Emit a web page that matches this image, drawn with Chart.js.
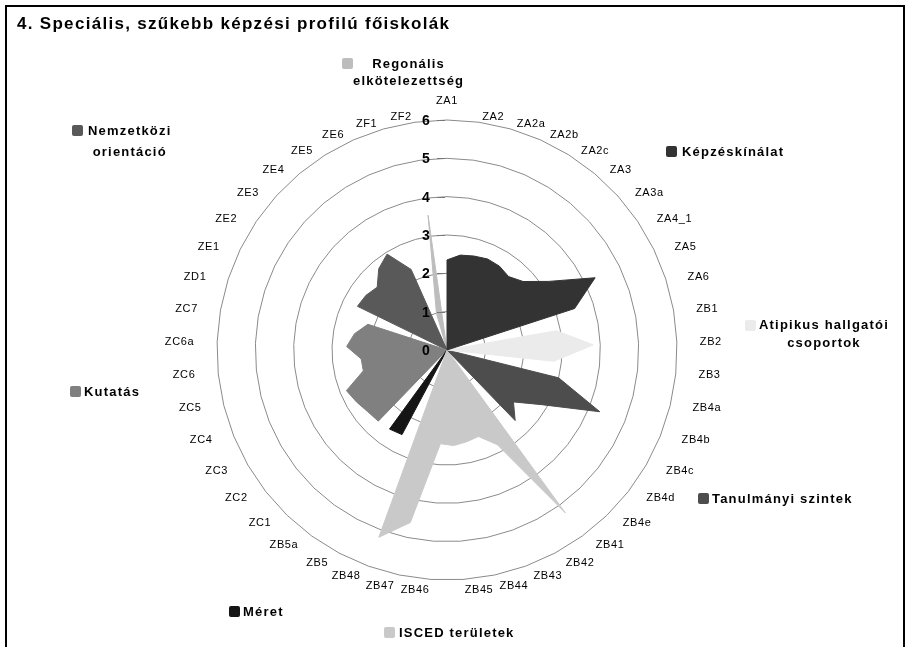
<!DOCTYPE html>
<html>
<head>
<meta charset="utf-8">
<script src="https://cdn.jsdelivr.net/npm/chart.js@4.4.0/dist/chart.umd.min.js"></script>
<style>
  html, body { margin: 0; padding: 0; background: #fff; overflow: hidden; }
  #wrap { position: relative; width: 909px; height: 647px; }
  #frame { position: absolute; left: 5px; top: 5px; width: 896px; height: 700px; border: 2px solid #000; pointer-events: none; }
  .title { position: absolute; left: 17px; top: 14px; font: bold 17px "Liberation Sans", Arial, sans-serif; letter-spacing: 1.3px; white-space: nowrap; }
  .leg { position: absolute; display: flex; align-items: flex-start; font: bold 13px "Liberation Sans", Arial, sans-serif; letter-spacing: 1.2px; }
  .leg .sq { width: 11px; height: 11px; border-radius: 2px; flex: none; }
  .leg .tx { text-align: center; white-space: nowrap; }
</style>
</head>
<body>
<div id="wrap">
  <canvas id="radar" width="909" height="647"></canvas>
  <div class="title">4. Speciális, szűkebb képzési profilú főiskolák</div>
  <div id="legends"></div>
  <div id="frame"></div>
</div>
<script>
// categories per group, in the order they run round the chart
const catKepzes = ['ZA1', 'ZA2', 'ZA2a', 'ZA2b', 'ZA2c', 'ZA3', 'ZA3a', 'ZA4_1', 'ZA5', 'ZA6'];
const catAtipikus = ['ZB1', 'ZB2', 'ZB3'];
const catSzintek = ['ZB4a', 'ZB4b', 'ZB4c', 'ZB4d', 'ZB4e'];
const catIsced = ['ZB41', 'ZB42', 'ZB43', 'ZB44', 'ZB45', 'ZB46', 'ZB47', 'ZB48'];
const catMeret = ['ZB5', 'ZB5a'];
const catKutatas = ['ZC1', 'ZC2', 'ZC3', 'ZC4', 'ZC5', 'ZC6', 'ZC6a', 'ZC7', 'ZD1'];
const catNemzetkozi = ['ZE1', 'ZE2', 'ZE3', 'ZE4', 'ZE5', 'ZE6'];
const catRegionalis = ['ZF1', 'ZF2'];

// values
const valKepzes = [2.35, 2.5, 2.55, 2.6, 2.58, 2.5, 2.67, 3.2, 4.3, 3.5];
const valAtipikus = [2.9, 3.82, 2.8];
const valSzintek = [3.0, 4.3, 2.85, 2.2, 2.56];
const valIsced = [5.25, 2.8, 2.4, 2.45, 2.5, 2.45, 4.6, 5.2];
const valMeret = [2.5, 2.55];
const valKutatas = [2.58, 2.62, 2.72, 2.83, 2.25, 2.25, 2.62, 2.45, 2.17];
const valNemzetkozi = [2.6, 2.55, 2.45, 2.77, 2.95, 2.3];
const valRegionalis = [1.0, 3.55];

const seriesNames = ['Képzéskínálat', 'Atipikus hallgatói csoportok', 'Tanulmányi szintek',
  'ISCED területek', 'Méret', 'Kutatás', 'Nemzetközi orientáció', 'Regonális elkötelezettség'];
const tickValues = [0, 1, 2, 3, 4, 5, 6];

const groups = [
  [catKepzes, valKepzes, '#333333'],
  [catAtipikus, valAtipikus, '#ebebeb'],
  [catSzintek, valSzintek, '#4d4d4d'],
  [catIsced, valIsced, '#c9c9c9'],
  [catMeret, valMeret, '#151515'],
  [catKutatas, valKutatas, '#808080'],
  [catNemzetkozi, valNemzetkozi, '#595959'],
  [catRegionalis, valRegionalis, '#bdbdbd']
];

const labels = groups.flatMap(g => g[0]);

const datasets = groups.map((g, k) => ({
  label: seriesNames[k],
  data: labels.map(l => {
    const j = g[0].indexOf(l);
    return j < 0 ? 0 : g[1][j];
  }),
  backgroundColor: g[2],
  borderColor: g[2],
  borderWidth: 1,
  borderJoinStyle: 'round',
  fill: true,
  pointRadius: 0,
  pointHoverRadius: 0
}));

// legend boxes: square left, first line centre y, gap, line height
const legendPos = [
  [666, 151, 5, 17, ['Képzéskínálat']],
  [745, 325, 3, 18, ['Atipikus hallgatói', 'csoportok']],
  [698, 498, 3, 17, ['Tanulmányi szintek']],
  [384, 632, 4, 17, ['ISCED területek']],
  [229, 611, 3, 17, ['Méret']],
  [70, 391, 3, 17, ['Kutatás']],
  [72, 130, 5, 21, ['Nemzetközi', 'orientáció']],
  [342, 63, 0, 17, ['Regonális', 'elkötelezettség']]
];
const legendBox = document.getElementById('legends');
legendPos.forEach((p, k) => {
  const d = document.createElement('div');
  d.className = 'leg';
  d.style.left = p[0] + 'px';
  d.style.top = (p[1] - p[3] / 2) + 'px';
  d.style.lineHeight = p[3] + 'px';
  const sq = document.createElement('div');
  sq.className = 'sq';
  sq.style.background = groups[k][2];
  sq.style.marginTop = ((p[3] - 11) / 2) + 'px';
  const tx = document.createElement('div');
  tx.className = 'tx';
  tx.style.marginLeft = p[2] + 'px';
  tx.innerHTML = p[4].join('<br>');
  d.appendChild(sq);
  d.appendChild(tx);
  legendBox.appendChild(d);
});

const rimLabels = {
  id: 'rimLabels',
  afterDraw(chart) {
    const s = chart.scales.r;
    const ctx = chart.ctx;
    const n = chart.data.labels.length;
    ctx.save();
    ctx.fillStyle = '#000';
    ctx.font = '11px "Liberation Sans", Arial, sans-serif';
    ctx.letterSpacing = '0.6px';
    ctx.textBaseline = 'middle';
    chart.data.labels.forEach((lab, i) => {
      const p = s.getPointPosition(i, s.drawingArea + 23);
      const a = i * 2 * Math.PI / n;
      const sn = Math.sin(a), cs = Math.cos(a);
      let y = p.y;
      if (Math.abs(sn) < 0.05) {
        ctx.textAlign = 'center';
        y += 4;
      } else {
        ctx.textAlign = sn > 0 ? 'left' : 'right';
        y += (cs > 0 ? 18 : 12) * cs;
      }
      ctx.fillText(lab, p.x, y);
    });
    // value axis: small tick marks and bold labels left of the axis
    ctx.letterSpacing = '0px';
    ctx.strokeStyle = '#777';
    ctx.lineWidth = 1;
    ctx.font = 'bold 14px "Liberation Sans", Arial, sans-serif';
    ctx.textAlign = 'center';
    tickValues.forEach(v => {
      const y = s.yCenter - s.getDistanceFromCenterForValue(v);
      if (v > 0) {
        ctx.beginPath();
        ctx.moveTo(s.xCenter - 10, Math.round(y) + 0.5);
        ctx.lineTo(s.xCenter - 2, Math.round(y) + 0.5);
        ctx.stroke();
      }
      ctx.fillText(String(v), s.xCenter - 21, y + 1);
    });
    ctx.restore();
  }
};

new Chart(document.getElementById('radar'), {
  type: 'radar',
  data: { labels: labels, datasets: datasets },
  options: {
    responsive: false,
    animation: false,
    layout: { padding: { left: 217, right: 232, top: 120, bottom: 67 } },
    elements: { line: { tension: 0 } },
    plugins: { legend: { display: false }, tooltip: { enabled: false } },
    scales: {
      r: {
        min: 0,
        max: 6,
        ticks: { display: false, stepSize: 1 },
        grid: { color: '#8a8a8a', lineWidth: 1, circular: false },
        angleLines: { display: false },
        pointLabels: { display: false }
      }
    }
  },
  plugins: [rimLabels]
});
</script>
</body>
</html>
